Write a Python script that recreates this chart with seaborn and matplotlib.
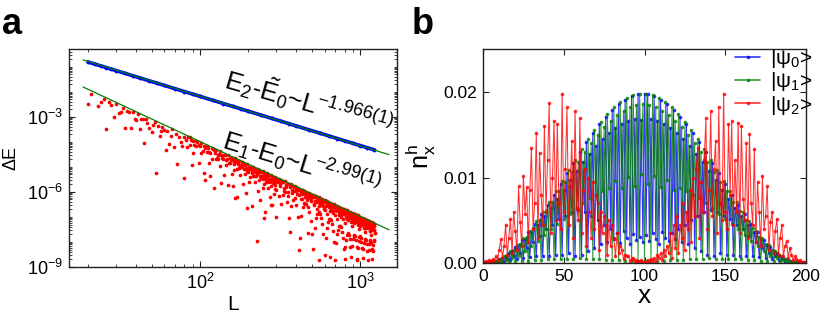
import numpy as np
import pandas as pd
import matplotlib
matplotlib.use("Agg")
import matplotlib.pyplot as plt
import seaborn as sns
from matplotlib.lines import Line2D
from matplotlib.ticker import FixedLocator, LogLocator, NullFormatter, LogFormatterMathtext, MultipleLocator, FormatStrFormatter

# ---------------- panel a data ----------------
# E2 - E0 (blue)
blue_L = [20, 22, 24, 26, 28, 30, 34, 38, 42, 48, 54, 60, 70, 80, 90, 100, 120, 140, 160, 180, 200,
          240, 280, 320, 360, 400, 480, 560, 640, 720, 800, 900, 1000, 1100, 1230]
blue_dE = [0.157, 0.130, 0.110, 0.0939, 0.0811, 0.0709, 0.0554, 0.0445, 0.0366, 0.0281, 0.0223, 0.0181,
           0.0134, 0.0103, 0.00817, 0.00665, 0.00464, 0.00343, 0.00264, 0.00209, 0.00170, 0.00119,
           0.000877, 0.000675, 0.000535, 0.000435, 0.000304, 0.000225, 0.000173, 0.000137, 0.000111,
           0.0000884, 0.0000718, 0.0000596, 0.0000478]

# fitted power laws (end points of the drawn fit lines)
fit2_L = [18.6, 1517]
fit2_dE = [0.19, 3.1e-5]
fit1_L = [18.6, 1517]
fit1_dE = [0.0158, 3.05e-8]

# E1 - E0 (red), log10 of Delta E
red_L_small = [20, 21, 23, 24, 25, 26, 27, 28, 29, 30, 31, 32, 33, 34, 35, 36, 37, 38, 39, 40, 41, 42, 43,
               44, 45, 46, 47, 48, 50, 51, 52, 53, 55, 56, 57, 58, 60, 61, 62, 64, 66, 67, 69, 71, 72,
               74, 76, 77, 79, 80, 82, 83, 84,
               89, 107, 115, 135, 161, 171, 196, 226, 252, 277, 365, 417, 475, 557, 649, 955, 1183]
red_log_small = [-2.49, -2.10, -2.56, -2.40, -2.30, -3.50, -2.42, -2.53, -3.00, -2.49,
                 -2.85, -2.80, -2.64, -3.46, -2.77, -2.82, -3.46, -2.82, -3.07, -3.13, -2.90, -3.50, -3.07,
                 -3.07, -4.04, -3.07, -3.24, -3.46, -3.60, -3.33, -3.20, -5.26, -3.37, -3.77, -3.57, -3.42,
                 -3.52, -4.33, -3.57, -4.10, -3.77, -3.50, -4.22, -3.67, -4.90, -3.80, -4.00, -4.17, -3.82,
                 -5.46, -3.92, -4.22, -3.82,
                 -4.93, -5.53, -5.37, -5.66, -5.77, -6.20, -6.66, -7.96, -7.06, -6.53, -7.60, -8.33, -7.64,
                 -8.73, -8.60, -8.73, -8.33]

red_L_mid = [86, 90, 94, 98, 102, 106, 110, 114, 118, 122, 126, 130, 134, 138, 142, 146, 150, 154, 158,
             162, 166, 170, 174, 178, 182, 186, 190, 194, 198, 202, 206, 210, 214, 218, 222, 226, 230, 234,
             238, 242, 246, 250, 254, 258, 262, 266, 270, 274, 278, 282, 286, 290, 294, 298]
red_L_mid2 = [88, 92, 96, 100, 104, 108, 112, 116, 120, 124, 128, 132, 136, 140, 144, 148, 152, 156, 160,
              164, 168, 172, 176, 180, 184, 188, 192, 196, 200, 204, 208, 212, 216, 220, 224, 228, 232, 236,
              240, 244, 248, 252, 256, 260, 264, 268, 272, 276, 280, 284, 288, 292, 296, 300]
red_log_mid_near = [-3.82, -3.95, -3.95, -4.14, -4.03, -4.18, -4.18, -4.40, -4.23, -4.34,
                    -4.33, -4.51, -4.38, -4.52, -4.51, -4.73, -4.54, -4.65, -4.63, -4.79,
                    -4.66, -4.79, -4.77, -4.98, -4.79, -4.89, -4.87, -5.03, -4.89, -5.02,
                    -4.99, -5.20, -5.00, -5.10, -5.07, -5.22, -5.09, -5.21, -5.18, -5.38,
                    -5.18, -5.27, -5.24, -5.40, -5.26, -5.37, -5.34, -5.54, -5.34, -5.43,
                    -5.40, -5.55, -5.40, -5.52]
red_log_mid_low = [-4.14, -4.45, -4.15, -4.86, -4.46, -5.26, -4.41, -4.85, -4.70, -5.84,
                   -4.68, -4.67, -4.96, -4.65, -5.34, -4.93, -5.71, -4.85, -5.28, -5.11,
                   -6.24, -5.07, -5.05, -5.33, -5.01, -5.69, -5.27, -6.05, -5.17, -5.60,
                   -5.42, -6.55, -5.37, -5.35, -5.62, -5.29, -5.97, -5.54, -6.31, -5.43,
                   -5.85, -5.67, -6.79, -5.62, -5.59, -5.85, -5.52, -6.19, -5.76, -6.53,
                   -5.65, -6.07, -5.88, -7.00]
red_log_mid_band = [-3.94, -4.13, -4.00, -4.18, -4.36, -4.24, -4.26, -4.43, -4.30, -4.46,
                    -4.63, -4.50, -4.51, -4.68, -4.54, -4.70, -4.86, -4.73, -4.73, -4.89,
                    -4.74, -4.89, -5.06, -4.91, -4.91, -5.07, -4.92, -5.07, -5.22, -5.08,
                    -5.07, -5.23, -5.07, -5.22, -5.37, -5.22, -5.22, -5.37, -5.21, -5.35,
                    -5.50, -5.35, -5.34, -5.50, -5.34, -5.47, -5.62, -5.47, -5.46, -5.61,
                    -5.45, -5.59, -5.73, -5.58]

red_L_big = [300, 310, 320, 330, 340, 350, 360, 370, 380, 390, 400, 410, 420, 430, 440, 450, 460, 470,
             480, 490, 500, 510, 520, 530, 540, 550, 560, 570, 580, 590, 600, 610, 620, 630, 640, 650,
             660, 670, 680, 690, 700, 710, 720, 730, 740, 750, 760, 770, 780, 790, 800, 810, 820, 830,
             840, 850, 860, 870, 880, 890, 900, 910, 920, 930, 940, 950, 960, 970, 980, 990, 1000, 1010,
             1020, 1030, 1040, 1050, 1060, 1070, 1080, 1090, 1100, 1110, 1120, 1130, 1140, 1150, 1160,
             1170, 1180, 1190, 1200, 1210, 1220, 1230]
red_L_big2 = [305, 315, 325, 335, 345, 355, 365, 375, 385, 395, 405, 415, 425, 435, 445, 455, 465, 475,
              485, 495, 505, 515, 525, 535, 545, 555, 565, 575, 585, 595, 605, 615, 625, 635, 645, 655,
              665, 675, 685, 695, 705, 715, 725, 735, 745, 755, 765, 775, 785, 795, 805, 815, 825, 835,
              845, 855, 865, 875, 885, 895, 905, 915, 925, 935, 945, 955, 965, 975, 985, 995, 1005, 1015,
              1025, 1035, 1045, 1055, 1065, 1075, 1085, 1095, 1105, 1115, 1125, 1135, 1145, 1155, 1165,
              1175, 1185, 1195, 1205, 1215, 1225, 1233]
red_log_big_near = [-5.43, -5.50, -5.52, -5.61, -5.58, -5.67, -5.69, -5.70, -5.77, -5.78,
                    -5.86, -5.83, -5.91, -5.92, -5.93, -5.99, -6.00, -6.07, -6.03, -6.11,
                    -6.11, -6.12, -6.18, -6.18, -6.25, -6.21, -6.28, -6.28, -6.29, -6.34,
                    -6.34, -6.41, -6.36, -6.43, -6.44, -6.44, -6.48, -6.48, -6.55, -6.50,
                    -6.57, -6.57, -6.57, -6.62, -6.61, -6.68, -6.63, -6.70, -6.69, -6.69,
                    -6.73, -6.73, -6.80, -6.74, -6.81, -6.80, -6.80, -6.84, -6.84, -6.90,
                    -6.85, -6.91, -6.91, -6.90, -6.94, -6.94, -7.00, -6.94, -7.01, -7.00,
                    -6.99, -7.04, -7.03, -7.09, -7.04, -7.10, -7.09, -7.08, -7.12, -7.12,
                    -7.18, -7.12, -7.18, -7.17, -7.16, -7.21, -7.20, -7.26, -7.20, -7.26,
                    -7.25, -7.24, -7.28, -7.27]
red_log_big_mid = [-5.59, -5.75, -5.61, -5.95, -5.79, -6.16, -5.80, -6.03, -5.97, -5.93,
                   -6.08, -5.94, -6.27, -6.10, -6.46, -6.09, -6.32, -6.24, -6.20, -6.35,
                   -6.19, -6.52, -6.35, -6.70, -6.32, -6.55, -6.47, -6.42, -6.57, -6.41,
                   -6.73, -6.55, -6.90, -6.52, -6.75, -6.67, -6.61, -6.75, -6.59, -6.91,
                   -6.73, -7.08, -6.70, -6.92, -6.83, -6.78, -6.92, -6.76, -7.07, -6.89,
                   -7.23, -6.85, -7.07, -6.98, -6.93, -7.06, -6.90, -7.21, -7.03, -7.37,
                   -6.99, -7.20, -7.12, -7.06, -7.19, -7.03, -7.34, -7.15, -7.50, -7.11,
                   -7.32, -7.24, -7.18, -7.31, -7.15, -7.46, -7.27, -7.61, -7.22, -7.44,
                   -7.35, -7.29, -7.42, -7.25, -7.56, -7.38, -7.72, -7.33, -7.54, -7.45,
                   -7.39, -7.52, -7.35, -7.66]
red_log_big_arc = [-5.91, -6.15, -6.49, -6.13, -6.02, -6.41, -7.05, -6.58, -6.32, -6.25,
                   -6.53, -7.02, -7.85, -6.98, -6.61, -6.49, -6.47, -6.59, -6.82, -7.15,
                   -7.67, -8.30, -7.43, -7.05, -6.87, -6.80, -6.87, -7.04, -7.27, -7.69,
                   -8.51, -7.83, -7.45, -7.22, -7.10, -7.07, -7.13, -7.30, -7.57, -7.99,
                   -8.71, -8.03, -7.70, -7.52, -7.38, -7.35, -7.42, -7.59, -7.85, -8.27,
                   -8.68, -8.20, -7.92, -7.73, -7.65, -7.71, -7.88, -8.19, -8.61, -8.17,
                   -7.89, -7.75, -7.72, -7.78, -7.94, -8.21, -8.67, -8.23, -7.95, -7.81,
                   -7.77, -7.84, -8.00, -8.26, -8.63, -8.29, -8.05, -7.91, -7.87, -7.94,
                   -8.10, -8.36, -8.72, -8.33, -8.09, -7.96, -7.92, -8.03, -8.29, -8.70,
                   -8.36, -8.12, -7.98, -7.94]
red_log_big_extra = [-5.51, -5.67, -5.56, -5.83, -5.71, -6.01, -5.74, -5.93, -5.82, -5.97,
                     -5.85, -6.12, -5.99, -6.28, -6.00, -6.19, -6.07, -6.21, -6.09, -6.34,
                     -6.21, -6.50, -6.22, -6.40, -6.27, -6.42, -6.29, -6.54, -6.41, -6.69,
                     -6.40, -6.58, -6.45, -6.59, -6.47, -6.72, -6.57, -6.85, -6.56, -6.74,
                     -6.61, -6.75, -6.62, -6.87, -6.72, -7.00, -6.71, -6.89, -6.75, -6.88,
                     -6.75, -7.00, -6.86, -7.13, -6.84, -7.01, -6.88, -7.02, -6.88, -7.12,
                     -6.98, -7.25, -6.96, -7.13, -6.99, -7.12, -6.99, -7.23, -7.09, -7.36,
                     -7.06, -7.23, -7.10, -7.23, -7.10, -7.34, -7.19, -7.46, -7.16, -7.33,
                     -7.20, -7.33, -7.19, -7.43, -7.28, -7.55, -7.26, -7.43, -7.29, -7.42,
                     -7.28, -7.51, -7.37, -7.64]

# ---------------- panel b data (hole density, units of 1e-4) ----------------
sites = list(range(0, 201))
psi0_nh = [0, 0, 0, 0, 1, 1, 2, 1, 3, 2, 5, 3, 6, 2, 9, 5, 12, 4, 14, 8,
           19, 5, 21, 12, 27, 6, 28, 18, 36, 7, 37, 25, 46, 8, 45, 32, 57, 8, 55, 40,
           68, 9, 65, 45, 80, 10, 75, 52, 93, 10, 86, 55, 105, 12, 97, 60, 117, 8, 108, 62,
           130, 10, 118, 60, 141, 14, 128, 55, 152, 18, 137, 50, 162, 22, 145, 45, 171, 25, 152, 40,
           179, 28, 158, 35, 186, 24, 163, 38, 191, 29, 166, 22, 195, 34, 168, 27, 197, 31, 167, 25,
           198,
           33, 197, 26, 168, 35, 195, 28, 166, 23, 191, 36, 163, 30, 186, 26, 158, 35, 179, 28, 152,
           40, 171, 25, 145, 45, 162, 22, 137, 50, 152, 18, 128, 55, 141, 14, 118, 60, 130, 10, 108,
           62, 117, 8, 97, 60, 105, 12, 86, 55, 93, 10, 75, 52, 80, 10, 65, 45, 68, 9, 55,
           40, 57, 8, 45, 32, 46, 8, 37, 25, 36, 7, 28, 18, 27, 6, 21, 12, 19, 5, 14,
           8, 12, 4, 9, 5, 6, 2, 5, 3, 3, 2, 2, 1, 1, 1, 0, 0, 0, 0, 0]
psi1_nh = [0, 0, 0, 0, 0, 1, 1, 2, 1, 4, 2, 5, 1, 8, 4, 10, 2, 14, 6, 16,
           3, 21, 9, 23, 3, 29, 14, 31, 3, 38, 20, 41, 4, 49, 26, 51, 4, 60, 33, 61,
           5, 72, 40, 72, 5, 84, 46, 84, 5, 96, 52, 95, 5, 109, 58, 107, 5, 121, 64, 118,
           6, 133, 70, 130, 5, 145, 76, 140, 5, 155, 80, 150, 5, 165, 84, 159, 4, 174, 88, 166,
           4, 182, 96, 173, 4, 188, 88, 178, 3, 193, 101, 182, 3, 196, 90, 185, 3, 198, 104, 186,
           3,
           197, 92, 185, 3, 196, 102, 182, 3, 193, 89, 178, 3, 188, 97, 173, 4, 182, 86, 166, 4,
           174, 88, 159, 4, 165, 84, 150, 5, 155, 80, 140, 5, 145, 76, 130, 5, 133, 70, 118, 6,
           121, 64, 107, 5, 109, 58, 95, 5, 96, 52, 84, 5, 84, 46, 72, 5, 72, 40, 61, 5,
           60, 33, 51, 4, 49, 26, 41, 4, 38, 20, 31, 3, 29, 14, 23, 3, 21, 9, 16, 3,
           14, 6, 10, 2, 8, 4, 5, 1, 4, 2, 2, 1, 1, 1, 0, 0, 0, 0, 0, 0]
psi2_nh = [0, 1, 3, 1, 4, 2, 5, 3, 8, 4, 15, 28, 6, 20, 45, 10, 30, 52, 12, 60,
           38, 15, 90, 48, 20, 102, 58, 89, 25, 85, 134, 40, 70, 152, 30, 129, 80, 45, 160, 60,
           120, 187, 35, 100, 166, 50, 163, 70, 40, 198, 60, 110, 182, 45, 90, 143, 30, 178, 65, 50,
           169, 35, 85, 110, 20, 100, 60, 30, 95, 40, 80, 70, 15, 60, 35, 55, 45, 10, 50, 20,
           45, 30, 8, 35, 12, 20, 15, 5, 10, 8, 8, 3, 5, 6, 2, 4, 3, 1, 4, 2,
           1,
           2, 4, 1, 5, 3, 6, 2, 10, 6, 12, 4, 15, 8, 20, 12, 35, 6, 45, 18, 55,
           12, 45, 30, 70, 15, 60, 40, 85, 25, 100, 55, 110, 135, 30, 95, 60, 120, 169, 40, 85,
           178, 55, 110, 143, 35, 182, 70, 50, 198, 60, 40, 163, 80, 166, 45, 120, 60, 164, 35, 160,
           75, 50, 140, 30, 151, 70, 45, 133, 25, 95, 60, 20, 102, 40, 55, 90, 15, 48, 60, 12,
           38, 52, 10, 30, 45, 8, 20, 26, 6, 18, 10, 4, 8, 5, 3, 4, 1, 2, 1, 0]
state_labels = ["|ψ$_0$>", "|ψ$_1$>", "|ψ$_2$>"]
state_colors = ["#0000ff", "#008000", "#ff0000"]

# ---------------- style ----------------
sns.set_theme(style="ticks")
plt.rcParams.update({
    "font.family": ["Liberation Sans", "DejaVu Sans"],
    "mathtext.fontset": "custom",
    "mathtext.rm": "Liberation Sans",
    "mathtext.it": "Liberation Sans:italic",
    "mathtext.bf": "Liberation Sans:bold",
    "text.color": "black", "axes.labelcolor": "black",
    "xtick.direction": "in", "ytick.direction": "in",
    "xtick.top": True, "ytick.right": True,
    "axes.linewidth": 1.0, "axes.edgecolor": "#222222",
    "xtick.color": "#222222", "ytick.color": "#222222",
    "xtick.labelcolor": "black", "ytick.labelcolor": "black",
    "xtick.major.size": 4, "ytick.major.size": 4,
    "xtick.minor.size": 2, "ytick.minor.size": 2,
    "xtick.major.width": 0.8, "ytick.major.width": 0.8,
    "xtick.minor.width": 0.6, "ytick.minor.width": 0.6,
})

W, H = 830, 319
fig = plt.figure(figsize=(W / 100, H / 100), dpi=100)
axa = fig.add_axes([69 / W, 1 - 267 / H, (397 - 69) / W, (267 - 49) / H])
axb = fig.add_axes([483 / W, 1 - 263.3 / H, (806 - 483) / W, (263.3 - 49) / H])

# ---------------- panel a ----------------
axa.set_xscale("log")
axa.set_yscale("log")

red_frames = [
    pd.DataFrame({"L": red_L_small, "dE": np.power(10.0, red_log_small)}),
    pd.DataFrame({"L": red_L_mid, "dE": np.power(10.0, red_log_mid_near)}),
    pd.DataFrame({"L": red_L_mid, "dE": np.power(10.0, red_log_mid_low)}),
    pd.DataFrame({"L": red_L_mid2, "dE": np.power(10.0, red_log_mid_band)}),
    pd.DataFrame({"L": red_L_big, "dE": np.power(10.0, red_log_big_near)}),
    pd.DataFrame({"L": red_L_big2, "dE": np.power(10.0, red_log_big_mid)}),
    pd.DataFrame({"L": red_L_big, "dE": np.power(10.0, red_log_big_arc)}),
    pd.DataFrame({"L": red_L_big2, "dE": np.power(10.0, red_log_big_extra)}),
]
red_df = pd.concat(red_frames, ignore_index=True)
sns.scatterplot(data=red_df, x="L", y="dE", ax=axa, color="#ff0000", s=7, linewidth=0,
                marker="o", zorder=2, legend=False)

blue_df = pd.DataFrame({"L": blue_L, "dE": blue_dE})
sns.lineplot(data=blue_df, x="L", y="dE", ax=axa, color="#0000ff", lw=2.6, marker="o",
             markersize=2.8, markeredgewidth=0, estimator=None, sort=False, zorder=3, legend=False)

sns.lineplot(x=fit2_L, y=fit2_dE, ax=axa, color="#008000", lw=0.9, estimator=None, sort=False, zorder=4)
sns.lineplot(x=fit1_L, y=fit1_dE, ax=axa, color="#008000", lw=0.9, estimator=None, sort=False, zorder=4)

axa.set_xlim(15.2, 1700)
axa.set_ylim(1e-9, 0.52)
axa.yaxis.set_major_locator(FixedLocator([1e-9, 1e-6, 1e-3]))
axa.yaxis.set_major_formatter(LogFormatterMathtext())
axa.yaxis.set_minor_locator(LogLocator(base=10, subs=np.arange(1, 10), numticks=100))
axa.yaxis.set_minor_formatter(NullFormatter())
axa.xaxis.set_major_locator(FixedLocator([100, 1000]))
axa.xaxis.set_major_formatter(LogFormatterMathtext())
axa.xaxis.set_minor_locator(LogLocator(base=10, subs=np.arange(2, 10), numticks=100))
axa.xaxis.set_minor_formatter(NullFormatter())
axa.tick_params(axis="both", which="major", labelsize=13, pad=4)
axa.set_xlabel("L", fontsize=15, labelpad=2)
axa.set_ylabel("ΔE", fontsize=13, labelpad=6)

axa.text(480, 4.0e-3, r"E$_2$-$\tilde{\mathrm{E}}_0$~L$^{\mathit{-1.966(1)}}$", fontsize=18.5,
         rotation=-16, ha="center", va="center", rotation_mode="anchor", zorder=5)
axa.text(430, 1.4e-5, r"E$_1$-E$_0$~L$^{\mathit{-2.99(1)}}$", fontsize=18.5,
         rotation=-17, ha="center", va="center", rotation_mode="anchor", zorder=5)

# ---------------- panel b ----------------
nh_df = pd.DataFrame({
    "x": sites * 3,
    "nh": np.concatenate([psi0_nh, psi1_nh, psi2_nh]) * 1e-4,
    "state": [state_labels[0]] * len(sites) + [state_labels[1]] * len(sites) + [state_labels[2]] * len(sites),
})
sns.lineplot(data=nh_df, x="x", y="nh", hue="state", hue_order=state_labels,
             palette=dict(zip(state_labels, state_colors)), ax=axb, lw=0.75, alpha=0.8,
             marker="o", markersize=2.6, markeredgewidth=0, estimator=None, sort=False, legend=False)

axb.set_xlim(0, 200)
axb.set_ylim(0, 0.025)
axb.xaxis.set_major_locator(MultipleLocator(50))
axb.yaxis.set_major_locator(FixedLocator([0.0, 0.01, 0.02]))
axb.yaxis.set_major_formatter(FormatStrFormatter("%.2f"))
axb.tick_params(axis="both", which="major", labelsize=12.5, pad=4)
axb.set_xlabel("x", fontsize=19, labelpad=0)
axb.set_ylabel(r"n$^{\mathrm{h}}_{\mathrm{x}}$", fontsize=18, labelpad=4)

handles = [Line2D([0], [0], color=c, lw=1.2, marker="o", markersize=2.6, markeredgewidth=0, alpha=0.8)
           for c in state_colors]
axb.legend(handles, state_labels, loc="upper right", bbox_to_anchor=(1.025, 1.02), frameon=False,
           fontsize=15, handlelength=1.2, handletextpad=0.45, labelspacing=0.02, borderaxespad=0.0,
           borderpad=0.1)

# panel letters
fig.text(2 / W, 1 - 34 / H, "a", fontsize=26, fontweight="bold")
fig.text(412 / W, 1 - 34 / H, "b", fontsize=26, fontweight="bold")

fig.savefig("out.png", dpi=100)
